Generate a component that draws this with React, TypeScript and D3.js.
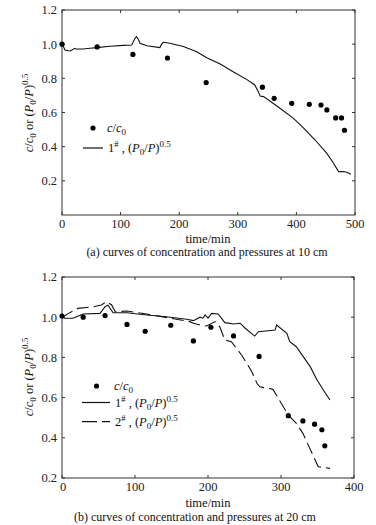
import React from "react";
import * as d3 from "d3";

// ---------- Data: panel (a) 10 cm ----------
const dotTimeA = [0, 60, 121, 180, 246, 342, 362, 392, 422, 442, 452, 467, 477, 482];
const dotConcA = [1.0, 0.984, 0.94, 0.919, 0.775, 0.748, 0.683, 0.654, 0.648, 0.644, 0.615, 0.568, 0.568, 0.496];

const lineTimeA = [0, 5, 14, 22, 25, 28, 36, 48, 59, 82, 105, 119, 124, 127, 130, 133, 145, 167, 170, 173, 184, 207, 230, 247, 270, 292, 315, 329, 335, 338, 344, 372, 395, 412, 432, 452, 462, 472, 480, 486, 493];
const lineValA = [1.005, 0.966, 0.96, 0.976, 0.97, 0.972, 0.972, 0.976, 0.98, 0.988, 0.993, 0.995, 1.03, 1.044, 1.03, 1.005, 0.991, 0.98, 1.0, 1.011, 1.005, 0.986, 0.956, 0.921, 0.884, 0.839, 0.794, 0.761, 0.722, 0.697, 0.693, 0.625, 0.566, 0.51, 0.439, 0.361, 0.31, 0.254, 0.255, 0.25, 0.238];

// ---------- Data: panel (b) 20 cm ----------
const dotTimeB = [0, 29, 59, 89, 114, 149, 180, 204, 235, 270, 310, 330, 346, 356, 360];
const dotConcB = [1.006, 1.0, 1.008, 0.964, 0.93, 0.96, 0.882, 0.95, 0.907, 0.805, 0.51, 0.484, 0.468, 0.44, 0.36];

const line1TimeB = [0, 4, 15, 29, 52, 59, 63, 70, 89, 116, 143, 171, 180, 189, 193, 196, 200, 205, 214, 223, 235, 244, 251, 264, 269, 292, 294, 308, 312, 321, 340, 349, 358, 367];
const line1ValB = [1.0, 0.995, 0.995, 1.016, 1.019, 1.052, 1.06, 1.022, 1.022, 1.011, 1.002, 0.99, 0.983, 1.0, 0.995, 1.011, 0.995, 1.019, 1.016, 0.973, 0.966, 0.97, 0.945, 0.906, 0.928, 0.936, 0.961, 0.92, 0.878, 0.853, 0.754, 0.69, 0.638, 0.588];

const line2TimeB = [0, 9, 22, 43, 54, 61, 68, 73, 89, 116, 148, 175, 180, 189, 198, 210, 216, 223, 232, 239, 246, 253, 260, 267, 271, 289, 310, 321, 330, 351, 367];
const line2ValB = [1.0, 1.019, 1.044, 1.052, 1.061, 1.077, 1.061, 1.027, 1.031, 1.016, 0.995, 0.978, 0.97, 0.961, 0.956, 0.978, 0.953, 0.887, 0.878, 0.845, 0.812, 0.771, 0.729, 0.671, 0.654, 0.641, 0.513, 0.472, 0.422, 0.256, 0.248];

const yTicks = [0.2, 0.4, 0.6, 0.8, 1.0, 1.2];
const xTicksA = [0, 100, 200, 300, 400, 500];
const xTicksB = [0, 100, 200, 300, 400];

const FONT = '"Liberation Serif", "DejaVu Serif", Times, serif';
const AXIS = "#333";
const TXT: React.CSSProperties = { fontFamily: FONT };

type Pt = [number, number];
const zip = (a: number[], b: number[]): Pt[] => a.map((v, i) => [v, b[i]]);

function YTitle({ x, y }: { x: number; y: number }) {
  return (
    <text transform={`translate(${x},${y}) rotate(-90)`} textAnchor="middle" fontSize={12.5} style={TXT} fill="#111">
      <tspan fontStyle="italic">c</tspan>
      <tspan>/</tspan>
      <tspan fontStyle="italic">c</tspan>
      <tspan fontSize={9} dy={3}>0</tspan>
      <tspan dy={-3}> or (</tspan>
      <tspan fontStyle="italic">P</tspan>
      <tspan fontSize={9} dy={3}>0</tspan>
      <tspan dy={-3}>/</tspan>
      <tspan fontStyle="italic">P</tspan>
      <tspan>)</tspan>
      <tspan fontSize={9} dy={-5}>0.5</tspan>
    </text>
  );
}

function PLabel({ x, y, num }: { x: number; y: number; num: string }) {
  return (
    <text x={x} y={y} fontSize={12.5} style={TXT} fill="#111">
      <tspan>{num}</tspan>
      <tspan fontSize={8.5} dy={-5}>#</tspan>
      <tspan dy={5}> , (</tspan>
      <tspan fontStyle="italic">P</tspan>
      <tspan fontSize={9} dy={3}>0</tspan>
      <tspan dy={-3}>/</tspan>
      <tspan fontStyle="italic">P</tspan>
      <tspan>)</tspan>
      <tspan fontSize={9} dy={-5}>0.5</tspan>
    </text>
  );
}

function CLabel({ x, y }: { x: number; y: number }) {
  return (
    <text x={x} y={y} fontSize={12.5} style={TXT} fill="#111">
      <tspan fontStyle="italic">c</tspan>
      <tspan>/</tspan>
      <tspan fontStyle="italic">c</tspan>
      <tspan fontSize={9} dy={3}>0</tspan>
    </text>
  );
}

function Frame({ x, y, xTicks, cornerShift }: { x: d3.ScaleLinear<number, number>; y: d3.ScaleLinear<number, number>; xTicks: number[]; cornerShift: boolean }) {
  const [x0, x1] = x.range();
  const [y0, y1] = y.range();
  const t = 3;
  return (
    <g fontSize={12.5} style={TXT} fill="#222">
      <rect x={x0} y={y1} width={x1 - x0} height={y0 - y1} fill="none" stroke={AXIS} strokeWidth={1} />
      {yTicks.map((v) => (
        <g key={"y" + v}>
          <line x1={x0} x2={x0 + t} y1={y(v)} y2={y(v)} stroke={AXIS} />
          <line x1={x1} x2={x1 - t} y1={y(v)} y2={y(v)} stroke={AXIS} />
          <text x={x0 - 5} y={y(v)} dy="0.35em" textAnchor="end">{v.toFixed(1)}</text>
        </g>
      ))}
      {xTicks.map((v) => (
        <g key={"x" + v}>
          <line x1={x(v)} x2={x(v)} y1={y0} y2={y0 - t} stroke={AXIS} />
          <line x1={x(v)} x2={x(v)} y1={y1} y2={y1 + t} stroke={AXIS} />
          <text x={x(v) + (v === 0 && cornerShift ? 1 : 0)} y={y0 + 13} textAnchor="middle">{v}</text>
        </g>
      ))}
    </g>
  );
}

export default function App() {
  const xA = d3.scaleLinear().domain([0, 500]).range([62, 355]);
  const yA = d3.scaleLinear().domain([0, 1.2]).range([215, 10]);
  const xB = d3.scaleLinear().domain([0, 400]).range([62, 354]);
  const yB = d3.scaleLinear().domain([0.2, 1.2]).range([478, 277]);

  const lineGenA = d3.line<Pt>().x((d) => xA(d[0])).y((d) => yA(d[1]));
  const lineGenB = d3.line<Pt>().x((d) => xB(d[0])).y((d) => yB(d[1]));

  const dotsA = zip(dotTimeA, dotConcA);
  const dotsB = zip(dotTimeB, dotConcB);

  return (
    <svg width={376} height={525} style={{ position: "absolute", left: 0, top: 0, background: "#fff" }}>
      {/* Panel (a) */}
      <Frame x={xA} y={yA} xTicks={xTicksA} cornerShift={false} />
      <path d={lineGenA(zip(lineTimeA, lineValA)) || ""} fill="none" stroke="#111" strokeWidth={1.1} />
      {dotsA.map((d, i) => (
        <circle key={"da" + i} cx={xA(d[0])} cy={yA(d[1])} r={2.6} fill="#000" />
      ))}
      <circle cx={93} cy={128} r={2.6} fill="#000" />
      <CLabel x={107} y={132} />
      <line x1={83} x2={103} y1={148} y2={148} stroke="#111" strokeWidth={1.2} />
      <PLabel x={108} y={152} num="1" />
      <YTitle x={33} y={113} />
      <text x={208} y={243} textAnchor="middle" fontSize={12.5} style={TXT} fill="#111">time/min</text>
      <text x={207} y={256} textAnchor="middle" fontSize={12} style={TXT} fill="#111">(a) curves of concentration and pressures at 10 cm</text>

      {/* Panel (b) */}
      <Frame x={xB} y={yB} xTicks={xTicksB} cornerShift={true} />
      <path d={lineGenB(zip(line1TimeB, line1ValB)) || ""} fill="none" stroke="#111" strokeWidth={1.1} />
      <path d={lineGenB(zip(line2TimeB, line2ValB)) || ""} fill="none" stroke="#111" strokeWidth={1.1} strokeDasharray="12,5" />
      {dotsB.map((d, i) => (
        <circle key={"db" + i} cx={xB(d[0])} cy={yB(d[1])} r={2.6} fill="#000" />
      ))}
      <circle cx={96.5} cy={386} r={2.6} fill="#000" />
      <CLabel x={114} y={390} />
      <line x1={82} x2={110} y1={402.5} y2={402.5} stroke="#111" strokeWidth={1.2} />
      <PLabel x={115} y={407} num="1" />
      <line x1={82} x2={110} y1={421.7} y2={421.7} stroke="#111" strokeWidth={1.2} strokeDasharray="15,5" />
      <PLabel x={115} y={426} num="2" />
      <YTitle x={33} y={377} />
      <text x={208} y={507} textAnchor="middle" fontSize={12.5} style={TXT} fill="#111">time/min</text>
      <text x={195} y={521} textAnchor="middle" fontSize={12} style={TXT} fill="#111">(b) curves of concentration and pressures at 20 cm</text>
    </svg>
  );
}
